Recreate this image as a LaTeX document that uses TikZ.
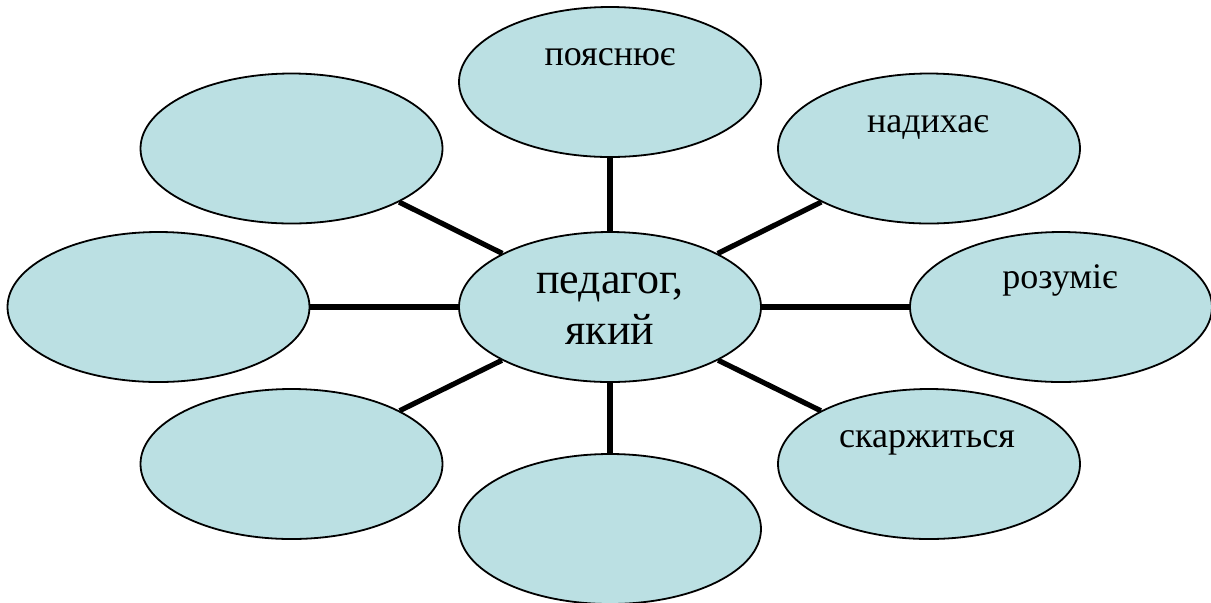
\documentclass[tikz,border=0pt]{standalone}
\usepackage{fontspec}
\setmainfont{Liberation Serif}
\usetikzlibrary{shapes.geometric}
\definecolor{bub}{RGB}{187,224,227}
\begin{document}
\begin{tikzpicture}[x=0.5pt,y=-0.5pt,
  bubble/.style={ellipse,draw=black,line width=0.9pt,fill=bub,minimum width=151pt,minimum height=75pt,inner sep=0pt},
  lbl/.style={anchor=base,font=\fontsize{18}{21}\selectfont,inner sep=0pt},
  midlbl/.style={anchor=base,font=\fontsize{22}{25}\selectfont,inner sep=0pt},
  spoke/.style={line width=2.6pt}]
\useasboundingbox (0,0) rectangle (1211,602);
\node[bubble] (C)  at (610,307) {};
\node[bubble] (T)  at (610,82) {};
\node[bubble] (TR) at (929,148.5) {};
\node[bubble] (R)  at (1061,307) {};
\node[bubble] (BR) at (929,464) {};
\node[bubble] (B)  at (610,529) {};
\node[bubble] (BL) at (291.5,464) {};
\node[bubble] (L)  at (158.5,307) {};
\node[bubble] (TL) at (291.5,148.5) {};
\foreach \n in {T,TR,R,BR,B,BL,L,TL} \draw[spoke] (C) -- (\n);
\node[lbl] (tT)  at (610,65) {пояснює};
\node[lbl] (tTR) at (928,132) {надихає};
\node[lbl] (tR)  at (1060,288) {розуміє};
\node[lbl] (tBR) at (927,447) {скаржиться};
\node[midlbl] (tC1) at (610,293) {педагог,};
\node[midlbl] (tC2) at (610,344) {який};
\end{tikzpicture}
\end{document}
